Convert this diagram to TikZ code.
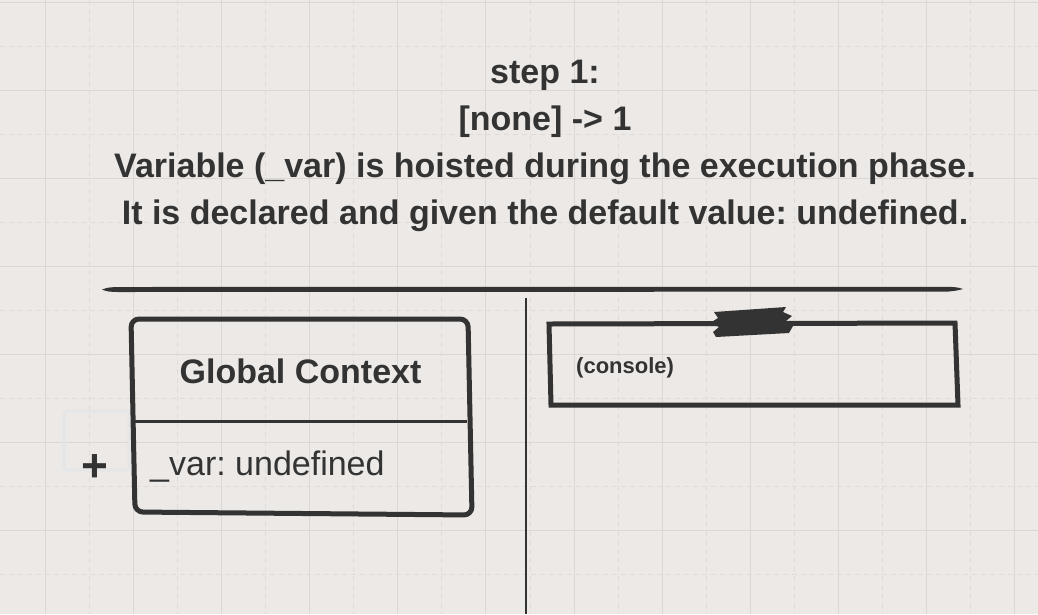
\documentclass[tikz,border=0pt]{standalone}
\usepackage{fontspec}
\setmainfont{Liberation Sans}
\usepackage{xcolor}
\usetikzlibrary{positioning}
\definecolor{paper}{RGB}{236,233,230}
\definecolor{gridmajor}{RGB}{219,215,212}
\definecolor{gridminor}{RGB}{222,219,216}
\definecolor{ink}{RGB}{51,51,51}
\definecolor{ghost}{RGB}{229,230,232}
\frenchspacing

\begin{document}
\begin{tikzpicture}[x=1pt, y=-1pt,
	headline/.style={anchor=base, inner sep=0pt, text=ink, font=\fontsize{34}{40}\selectfont\bfseries},
	plaintext/.style={anchor=base west, inner sep=0pt, text=ink, font=\fontsize{34}{40}\selectfont},
	frame/.style={draw=ink, line width=5pt, line join=round},
	majorline/.style={gridmajor, line width=1pt},
	minorline/.style={gridminor, line width=1pt, dash pattern=on 5pt off 4pt}]
	\fill[paper] (0,0) rectangle (1038,614);
	\useasboundingbox (0,0) rectangle (1038,614);
	% grid
	\foreach \k in {0,...,10}
		\draw[minorline] ({89.1+88.18*\k},0) -- ++(0,614);
	\foreach \k in {0,...,11}
		\draw[majorline] ({45+88.18*\k},0) -- ++(0,614);
	\foreach \k in {0,...,6} {
		\draw[minorline] (0,{46+88*\k}) -- ++(1038,0);
		\draw[majorline] (0,{2+88*\k}) -- ++(1038,0);
	}
	% heading
	\node[headline] (step) at (545,83) {step 1:};
	\node[headline] (move) at (545,130) {[none] -> 1};
	\node[headline] (hoist) at (545,177) {Variable (\_var) is hoisted during the execution phase.};
	\node[headline] (declare) at (545,224) {It is declared and given the default value: undefined.};
	% separators
	\fill[ink] (102,289.6) .. controls (108,287.4) .. (118,287) -- (948,286.8)
		.. controls (957,287.2) .. (963,289) .. controls (957,290.6) .. (948,291.6)
		-- (118,292) .. controls (108,291.7) .. (102,289.6) -- cycle;
	\coordinate (splittop) at (526,298);
	\coordinate (splitbot) at (526,614);
	\draw[ink, line width=2pt] (splittop) -- (splitbot);
	% global context
	\draw[ghost, line width=3pt, rounded corners=3pt] (64,411) rectangle (129,470);
	\draw[frame, rounded corners=8pt] (131,319) -- (468,319) -- (472,515) -- (135,512) -- cycle;
	\draw[ink, line width=3pt] (133,421) -- (467,421);
	\node[headline] (ctx) at (300.5,383) {Global Context};
	\node[plaintext] (var) at (150,475) {\_var: undefined};
	\node[inner sep=0pt, text=ink, font=\fontsize{46}{50}\selectfont\bfseries] (plus) at (95,468.5) {+};
	% console
	\draw[frame, line join=miter] (549,324) -- (955,323) -- (958,405) -- (551,405) -- cycle;
	\fill[ink] (714,312) -- (786,307) -- (783,312) -- (792,316) -- (786,321) -- (793,326)
		-- (789,333) -- (716,337) -- (713,332) -- (719,327) -- (710,323) -- (718,318) -- cycle;
	\node[plaintext, font=\fontsize{22}{26}\selectfont\bfseries] (console) at (576,373) {(console)};
\end{tikzpicture}
\end{document}
